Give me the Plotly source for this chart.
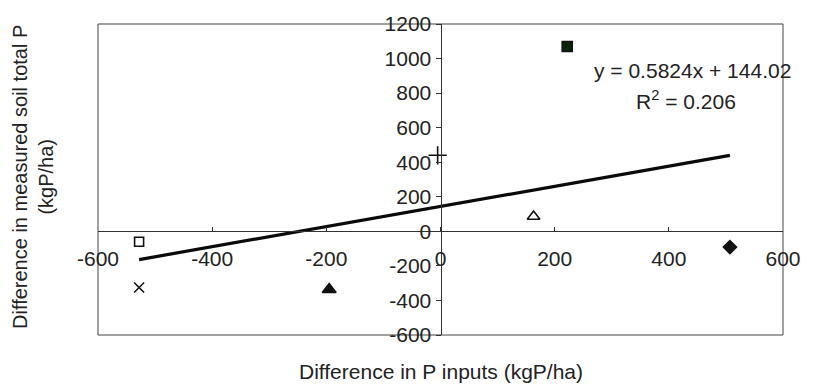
import plotly.graph_objects as go

# Data
p_inputs_diff = [222, -528, -528, -195, -5, 163, 507]
soil_p_diff = [1070, -60, -325, -337, 440, 86, -91]
point_symbols = ["square", "square-open", "x-thin-open", "triangle-up", "cross-thin-open", "triangle-up-open", "diamond"]
point_colors = ["#0b230b", "#111111", "#111111", "#111111", "#111111", "#111111", "#111111"]
point_sizes = [10, 9, 10, 12, 13, 11, 10]

slope = 0.5824
intercept = 144.02
r_squared = 0.206

x_ticks = [-600, -400, -200, 0, 200, 400, 600]
y_ticks = [-600, -400, -200, 0, 200, 400, 600, 800, 1000, 1200]

trend_x = [min(p_inputs_diff), max(p_inputs_diff)]
trend_y = [slope * v + intercept for v in trend_x]

FONT = "Liberation Sans, Arial, sans-serif"

fig = go.Figure()
fig.add_trace(go.Scatter(x=trend_x, y=trend_y, mode="lines",
                         line=dict(color="#0a0a0a", width=3.2), hoverinfo="skip"))
fig.add_trace(go.Scatter(x=p_inputs_diff, y=soil_p_diff, mode="markers",
                         marker=dict(symbol=point_symbols, color=point_colors, size=point_sizes,
                                     opacity=1,
                                     line=dict(color="#111111", width=1.6))))

fig.update_layout(
    width=813, height=391,
    margin=dict(l=98, r=21, t=20, b=56),
    paper_bgcolor="white", plot_bgcolor="white",
    showlegend=False,
    font=dict(family=FONT, size=21, color="#222222"),
    xaxis=dict(range=[-600, 600], tickvals=x_ticks, ticktext=[str(v) for v in x_ticks],
               anchor="free", position=1/3, showgrid=False, zeroline=False,
               showline=True, linecolor="#333333", linewidth=1,
               ticks="inside", ticklen=4, tickcolor="#333333",
               ticklabelstandoff=8, tickfont=dict(size=21)),
    yaxis=dict(range=[-600, 1200], tickvals=y_ticks, ticktext=[str(v) for v in y_ticks],
               anchor="free", position=0.5, showgrid=False, zeroline=False,
               showline=True, linecolor="#333333", linewidth=1,
               ticks="outside", ticklen=5, tickcolor="#333333",
               tickfont=dict(size=21)),
    shapes=[dict(type="rect", xref="paper", yref="paper", x0=0, y0=0, x1=1, y1=1,
                 line=dict(color="#444444", width=1), layer="below")],
    annotations=[
        dict(text="y = 0.5824x + 144.02", xref="paper", yref="paper", x=1.014, y=0.851,
             xanchor="right", yanchor="middle", showarrow=False, font=dict(size=21)),
        dict(text="R<sup>2</sup> = 0.206", xref="paper", yref="paper", x=0.858, y=0.756,
             xanchor="center", yanchor="middle", showarrow=False, font=dict(size=21)),
        dict(text="Difference in P inputs (kgP/ha)", xref="paper", yref="paper",
             x=0.5, y=-0.117, xanchor="center", yanchor="middle", showarrow=False,
             font=dict(size=21)),
        dict(text="Difference in measured soil total P<br>(kgP/ha)", xref="paper", yref="paper",
             x=-0.095, y=0.508, xanchor="center", yanchor="middle", textangle=-90,
             showarrow=False, font=dict(size=20)),
    ],
)

fig.write_html("out.html")
